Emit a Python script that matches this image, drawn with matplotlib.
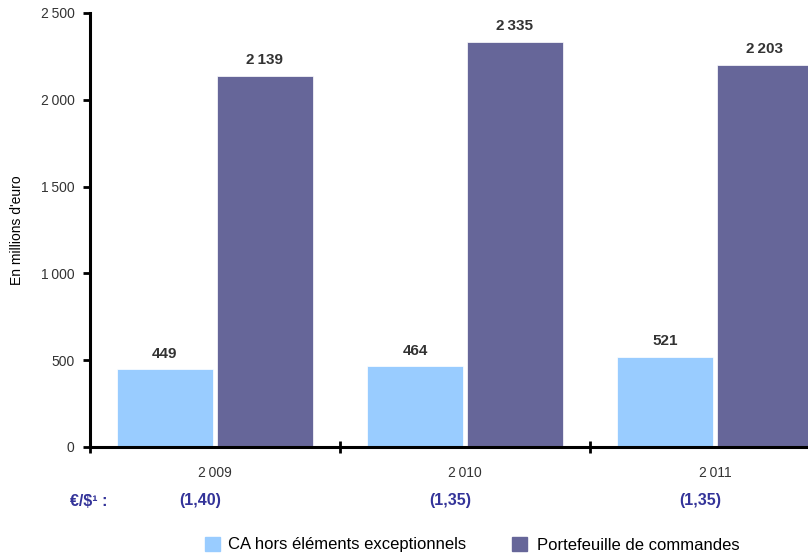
import numpy as np
import matplotlib.pyplot as plt
from matplotlib.transforms import blended_transform_factory
from matplotlib.patches import Rectangle

plt.rcParams['font.family'] = ['Liberation Sans', 'DejaVu Sans']

years = ["2\u2009009", "2\u2009010", "2\u2009011"]
ca = [449, 464, 521]
portefeuille = [2139, 2335, 2203]
ca_labels = ["449", "464", "521"]
pf_labels = ["2\u2009139", "2\u2009335", "2\u2009203"]
taux = ["(1,40)", "(1,35)", "(1,35)"]
yticks = [0, 500, 1000, 1500, 2000, 2500]
ytick_labels = ["0", "500", "1\u2009000", "1\u2009500", "2\u2009000", "2\u2009500"]

light = "#99CCFF"
dark = "#666699"
txt = "#333333"
blue_txt = "#333399"

W, H = 808, 555
fig = plt.figure(figsize=(W / 100, H / 100), dpi=100)
ax = fig.add_axes([90 / W, (H - 447) / H, 750 / W, (447 - 13) / H])

x = np.arange(len(years)) + 0.5
bw = 0.384
ax.bar(x - 0.2, ca, bw, color=light, edgecolor="white", linewidth=0.5)
ax.bar(x + 0.2, portefeuille, bw, color=dark, edgecolor="white", linewidth=0.5)

for xi, v, lab in zip(x - 0.2, ca, ca_labels):
    ax.annotate(lab, (xi, v), xytext=(0, 11), textcoords="offset points",
                ha="center", va="center", fontsize=11, fontweight="bold", color=txt)
for xi, v, lab in zip(x + 0.2, portefeuille, pf_labels):
    ax.annotate(lab, (xi, v), xytext=(0, 11), textcoords="offset points",
                ha="center", va="center", fontsize=11, fontweight="bold", color=txt)

ax.set_xlim(0, 3)
ax.set_ylim(0, 2500)
ax.set_yticks(yticks)
ax.set_yticklabels(ytick_labels, fontsize=10, color=txt)
ax.set_xticks([0, 1, 2, 3])
ax.set_xticklabels([])
ax.tick_params(axis="y", direction="out", length=5, width=2, pad=6)
ax.tick_params(axis="x", direction="inout", length=9, width=2)

for s in ["top", "right"]:
    ax.spines[s].set_visible(False)
ax.spines["left"].set_linewidth(2.2)
ax.spines["bottom"].set_linewidth(2.2)

ax.set_ylabel("En millions d'euro", fontsize=10, color="black", labelpad=12)

tr = blended_transform_factory(ax.transData, fig.transFigure)
for xi, y in zip(x, years):
    ax.text(xi, 1 - 473 / H, y, transform=tr, ha="center", va="center",
            fontsize=10, color=txt)
for xi, t in zip(x - 0.06, taux):
    ax.text(xi, 1 - 501 / H, t, transform=tr, ha="center", va="center",
            fontsize=11.5, fontweight="bold", color=blue_txt)
fig.text(70 / W, 1 - 501 / H, "€/$\u00b9 :", ha="left", va="center",
         fontsize=11.5, fontweight="bold", color=blue_txt)

# legend
fig.patches.append(Rectangle((205 / W, 1 - 551 / H), 15 / W, 14 / H,
                             transform=fig.transFigure, color=light))
fig.text(228 / W, 1 - 545 / H, "CA hors éléments exceptionnels",
         ha="left", va="center", fontsize=12, color="black")
fig.patches.append(Rectangle((512 / W, 1 - 551 / H), 15 / W, 14 / H,
                             transform=fig.transFigure, color=dark))
fig.text(537 / W, 1 - 545 / H, "Portefeuille de commandes",
         ha="left", va="center", fontsize=12, color="black")

fig.savefig("out.png", dpi=100)
